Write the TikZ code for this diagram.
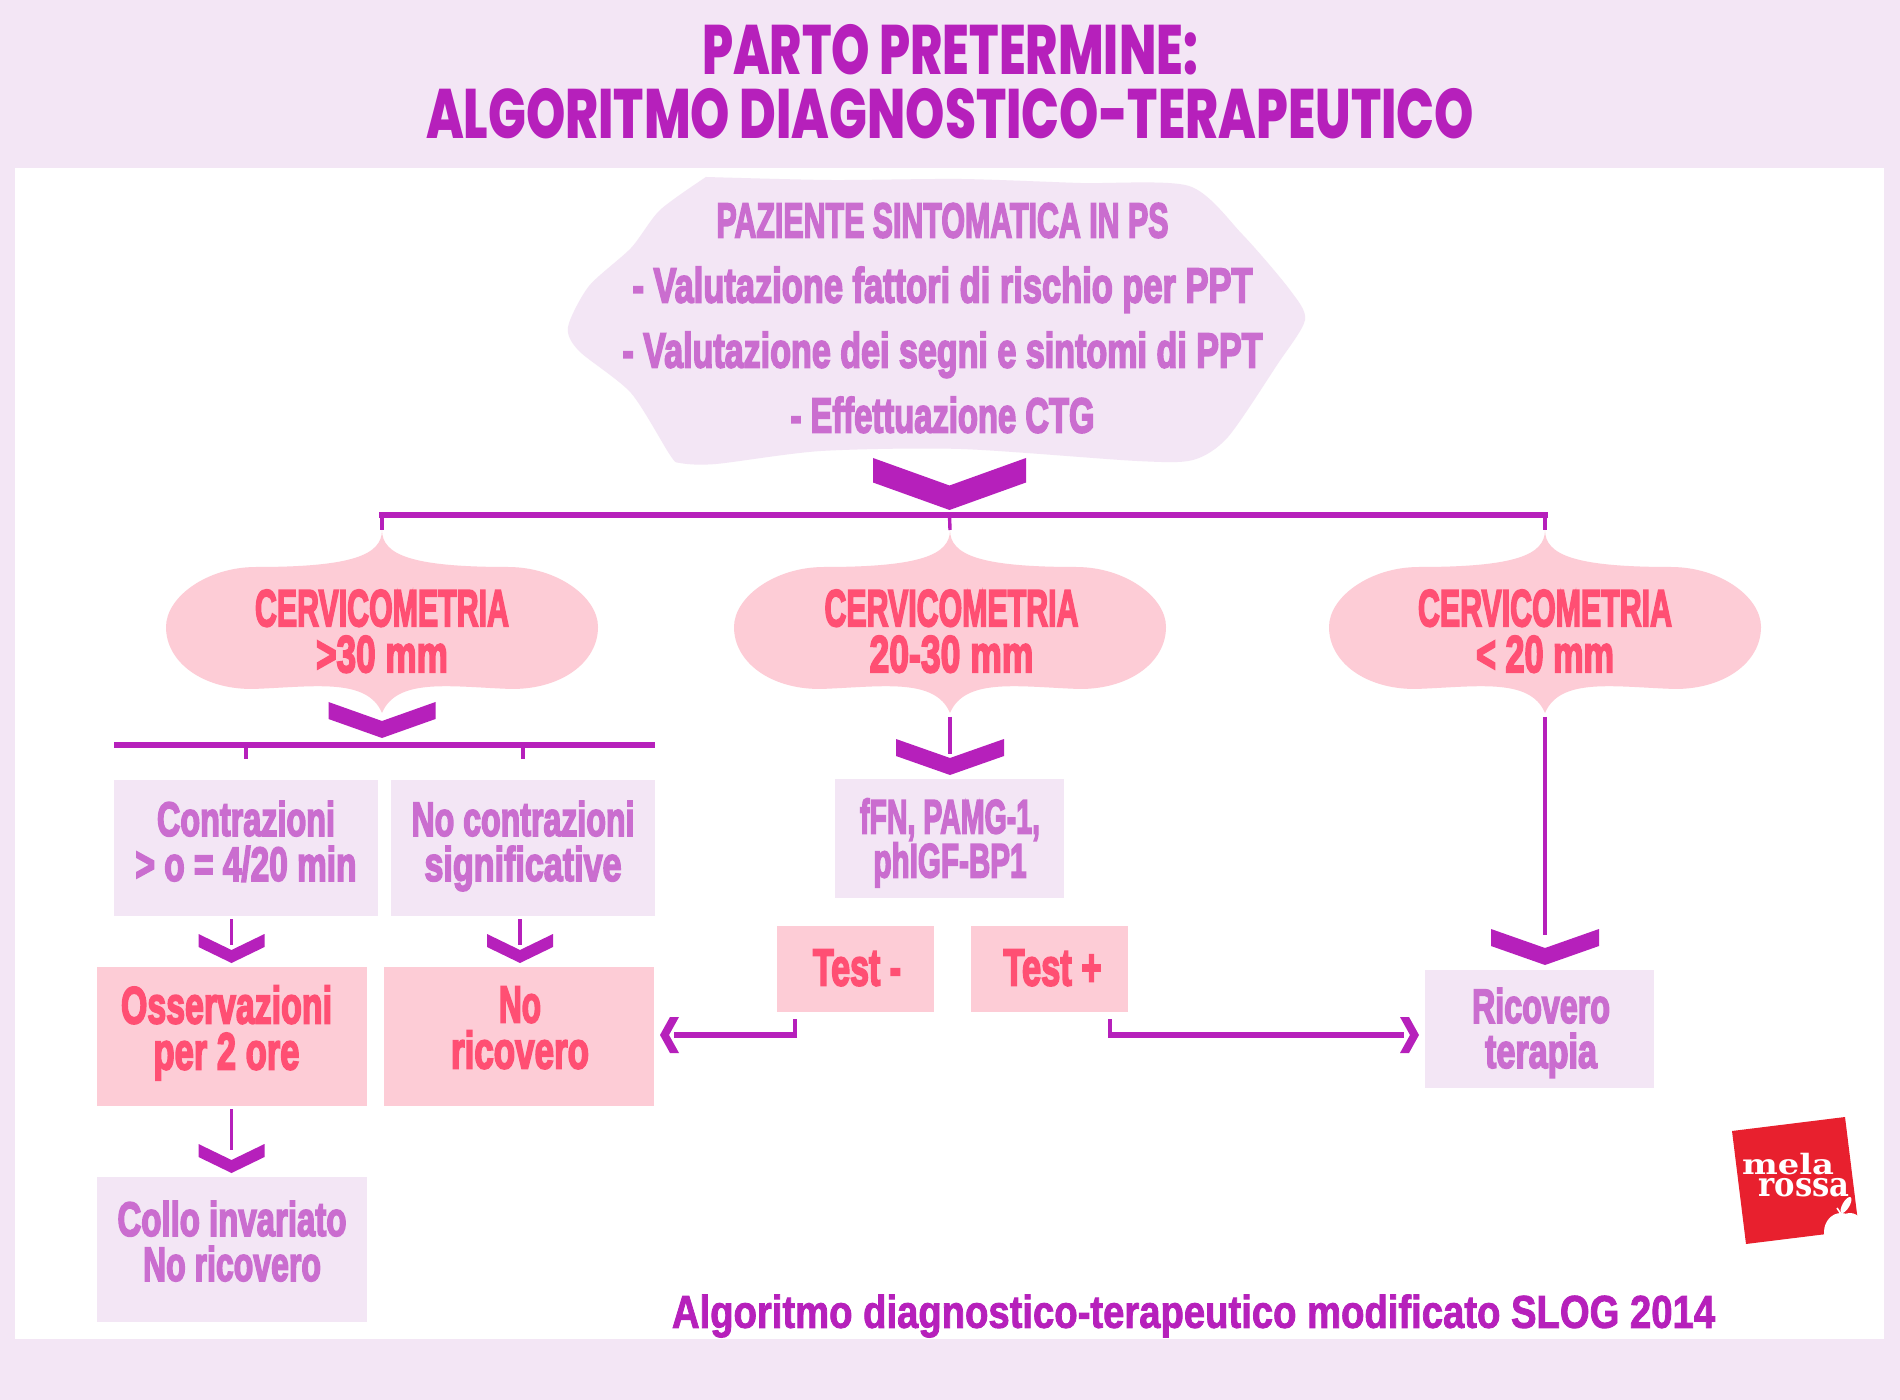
\documentclass[tikz,border=0pt]{standalone}
\usepackage{fontspec}
\usepackage{graphicx}
\newfontfamily\imp[BoldFont={Liberation Sans Bold},BoldFeatures={FakeBold=4}]{Liberation Sans}
\newfontfamily\srcf[BoldFont={Liberation Sans Bold},BoldFeatures={FakeBold=2}]{Liberation Sans}
\newfontfamily\ttlf[BoldFont={Poppins ExtraBold}]{Poppins}
\newfontfamily\logof{DejaVu Serif}
\lineskiplimit=-100pt
\definecolor{bgl}{HTML}{F3E6F5}
\definecolor{vio}{HTML}{B620BB}
\definecolor{lil}{HTML}{CA6DCF}
\definecolor{pnk}{HTML}{FDCCD6}
\definecolor{rdp}{HTML}{FF4F73}
\definecolor{lgr}{HTML}{E8202E}
\newcommand\ft[2]{\resizebox{#1pt}{\height}{\vphantom{Ag}#2}}
\newcommand\chev[5]{\fill[vio] (#1-#3,#2) -- (#1,#2+#4) -- (#1+#3,#2) -- (#1+#3,#2+#5) -- (#1,#2+#4+#5) -- (#1-#3,#2+#5) -- cycle;}
\newcommand\bubble[2]{%
 \fill[pnk,shift={(#2,627)}] (0,-97) .. controls (0,-72) and (-30,-60) .. (-126,-60)
   .. controls (-175,-60) and (-216,-30) .. (-216,0) .. controls (-216,35) and (-180,62) .. (-130,62)
   .. controls (-70,60) and (-15,50) .. (0,86) .. controls (15,50) and (70,60) .. (130,62)
   .. controls (180,62) and (216,35) .. (216,0) .. controls (216,-30) and (175,-60) .. (126,-60)
   .. controls (30,-60) and (0,-72) .. (0,-97) -- cycle;
 \coordinate (#1-top) at (#2,530); \coordinate (#1-bot) at (#2,713);}
\tikzset{
  x=0.5pt,y=-0.5pt,
  bar/.style={draw=vio,line width=3pt},
  stub/.style={draw=vio,line width=1.7pt},
  lilbox/.style={fill=bgl,inner sep=0pt,outer sep=0pt},
  pnkbox/.style={fill=pnk,inner sep=0pt,outer sep=0pt},
  lbl/.style={inner sep=0pt,outer sep=0pt,align=center,text=lil,font=\imp\bfseries\fontsize{24}{22.5}\selectfont},
  lblr/.style={lbl,text=rdp,font=\imp\bfseries\fontsize{26}{23}\selectfont},
}
\begin{document}
\begin{tikzpicture}
\fill[bgl] (0,0) rectangle (1900,1400);
\useasboundingbox (0,0) rectangle (1900,1400);
\fill[white] (15,168) rectangle (1884,1339);
% title
\node[inner sep=0pt,align=center,text=vio,font=\ttlf\bfseries\fontsize{35}{32}\selectfont] (title) at (950,91)
  {\ft{248}{PARTO PRETERMINE:}\\\ft{524}{ALGORITMO DIAGNOSTICO-TERAPEUTICO}};
% blob
\fill[bgl] plot[smooth,tension=.45] coordinates {(706,177) (830,180) (961,179) (1080,183) (1189,186) (1242,234) (1290,290) (1305,320) (1277,365) (1228,437) (1193,460) (1137,461) (961,449) (821,451) (716,464) (680,463) (670,455) (631,393) (579,351) (568,327) (589,286) (631,248) (660,210) (706,177)};
\node[lbl,font=\imp\bfseries\fontsize{24.5}{32.5}\selectfont] (patient) at (942.5,323)
  {\ft{226}{PAZIENTE SINTOMATICA IN PS}\\\ft{310}{- Valutazione fattori di rischio per PPT}\\\ft{320}{- Valutazione dei segni e sintomi di PPT}\\\ft{152}{- Effettuazione CTG}};
\chev{949.5}{458}{76.5}{27.5}{24.5}
% top bar
\coordinate (barL) at (382,515);
\coordinate (barM) at (949.5,515);
\coordinate (barR) at (1545,515);
\draw[bar,line cap=rect] (barL) -- (barR);
\bubble{b1}{382}
\bubble{b2}{950}
\bubble{b3}{1545}
\draw[stub] (barL) -- (b1-top);
\draw[stub] (barM) -- (b2-top);
\draw[stub] (barR) -- (b3-top);
\node[lblr] (c1) at (382,636.5) {\ft{127}{CERVICOMETRIA}\\\ft{66}{>30 mm}};
\node[lblr] (c2) at (951.5,636.5) {\ft{127}{CERVICOMETRIA}\\\ft{82}{20-30 mm}};
\node[lblr] (c3) at (1545,636.5) {\ft{127}{CERVICOMETRIA}\\\ft{69}{< 20 mm}};
% left branch
\chev{382}{702}{53.5}{19}{17}
\coordinate (bar2L) at (114,745);
\coordinate (bar2R) at (655,745);
\draw[bar] (bar2L) -- (bar2R);
\node[lilbox,minimum width=132pt,minimum height=68pt] (q1) at (246,848) {};
\node[lilbox,minimum width=132pt,minimum height=68pt] (q2) at (523,848) {};
\coordinate (s1) at (246,745);\coordinate (s1b) at (246,759);
\coordinate (s2) at (523,745);\coordinate (s2b) at (523,759);
\draw[stub] (s1) -- (s1b);
\draw[stub] (s2) -- (s2b);
\node[lbl] (q1t) at (246,846) {\ft{89}{Contrazioni}\\\ft{110.5}{> o = 4/20 min}};
\node[lbl] (q2t) at (523,846) {\ft{111.5}{No contrazioni}\\\ft{98.5}{significative}};
\coordinate (w1) at (231.5,919);\coordinate (w1b) at (231.5,945);
\coordinate (w2) at (520,919);\coordinate (w2b) at (520,945);
\draw[stub] (w1) -- (w1b);
\draw[stub] (w2) -- (w2b);
\chev{231.5}{934}{33}{16}{13}
\chev{520}{934}{33}{16}{13}
\node[pnkbox,minimum width=135pt,minimum height=69.5pt] (oss) at (232,1036) {};
\node[pnkbox,minimum width=135pt,minimum height=69.5pt] (nor) at (519,1036) {};
\node[lblr] (osst) at (226.5,1033) {\ft{105.5}{Osservazioni}\\\ft{73}{per 2 ore}};
\node[lblr] (nort) at (520,1033) {\ft{21}{No}\\\ft{69}{ricovero}};
\coordinate (w3) at (231.5,1109);\coordinate (w3b) at (231.5,1150);
\draw[stub] (w3) -- (w3b);
\chev{231.5}{1144}{33}{16}{13}
\node[lilbox,minimum width=135pt,minimum height=72.5pt] (col) at (232,1249.5) {};
\node[lbl] (colt) at (232,1246) {\ft{114.5}{Collo invariato}\\\ft{89}{No ricovero}};
% middle branch
\draw[stub] (b2-bot) ++(0,4) coordinate (w4) -- (950,754) coordinate (w4b);
\chev{950}{739}{54}{19}{17}
\node[lilbox,minimum width=114.5pt,minimum height=59.5pt] (fn) at (949.5,838.5) {};
\node[lbl,font=\imp\bfseries\fontsize{24}{22}\selectfont] (fnt) at (950,843) {\ft{90}{fFN, PAMG-1,}\\\ft{76.5}{phIGF-BP1}};
\node[pnkbox,minimum width=78.5pt,minimum height=43pt] (tm) at (855.5,969) {};
\node[pnkbox,minimum width=78.5pt,minimum height=43pt] (tp) at (1049.5,969) {};
\node[lblr] (tmt) at (857,973) {\ft{44}{Test -}};
\node[lblr] (tpt) at (1052.5,973) {\ft{49}{Test +}};
\coordinate (el1) at (795,1019);\coordinate (el1c) at (795,1035);\coordinate (el1t) at (674,1035);
\coordinate (el2) at (1110,1019);\coordinate (el2c) at (1110,1035);\coordinate (el2t) at (1404,1035);
\draw[stub,line width=2pt] (el1) -- (el1c);
\draw[stub,line width=2pt] (el2) -- (el2c);
\draw[bar] (797,1035) -- (el1t);
\draw[bar] (1108,1035) -- (el2t);
\fill[vio] (660,1035) -- (670,1017) -- (679,1017) -- (669,1035) -- (679,1053) -- (670,1053) -- cycle;
\fill[vio] (1419,1035) -- (1409,1017) -- (1400,1017) -- (1410,1035) -- (1400,1053) -- (1409,1053) -- cycle;
% right branch
\coordinate (w5) at (1545,717);\coordinate (w5b) at (1545,935);
\draw[stub] (w5) -- (w5b);
\chev{1545}{929}{54}{19}{17}
\node[lilbox,minimum width=114.5pt,minimum height=59pt] (ric) at (1539.5,1028.5) {};
\node[lbl] (rict) at (1541,1033) {\ft{69}{Ricovero}\\\ft{56}{terapia}};
% logo
\fill[lgr] (1732,1131) -- (1845,1117) -- (1859,1230) -- (1746,1244) -- cycle;
\node[inner sep=0pt,anchor=base,text=white,font=\logof\bfseries\fontsize{14}{14}\selectfont] (logo1) at (1788,1174) {\resizebox{46pt}{\height}{mela}};
\node[inner sep=0pt,anchor=base,text=white,font=\logof\bfseries\fontsize{17}{17}\selectfont] (logo2) at (1804,1196) {\resizebox{45.5pt}{\height}{rossa}};
\fill[white] (1841,1232) ellipse [x radius=17,y radius=19];
\fill[white] (1850,1232) ellipse [x radius=15,y radius=19];
\fill[white,rotate around={-30:(1846,1205)}] (1846,1205) ellipse [x radius=3.5,y radius=9];
\draw[white,line width=.8pt] (1837,1208) -- (1841,1214);
% source
\node[inner sep=0pt,text=vio,font=\srcf\bfseries\fontsize{23}{24}\selectfont] (src) at (1193.5,1316) {\ft{521.5}{Algoritmo diagnostico-terapeutico modificato SLOG 2014}};
\end{tikzpicture}
\end{document}
